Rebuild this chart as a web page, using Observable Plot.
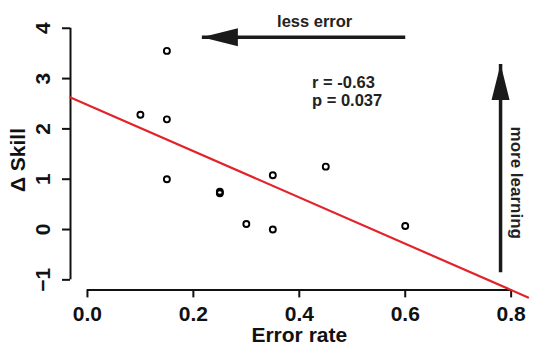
<!DOCTYPE html>
<html>
<head>
<meta charset="utf-8">
<script src="https://cdn.jsdelivr.net/npm/d3@7"></script>
<script src="https://cdn.jsdelivr.net/npm/@observablehq/plot@0.6"></script>
<style>
  html, body { margin: 0; padding: 0; background: #fff; }
  svg { display: block; }
</style>
</head>
<body>
<div id="chart"></div>
<script>
// ---- data ----
const errorRate = [0.15, 0.10, 0.15, 0.15, 0.25, 0.25, 0.35, 0.45, 0.30, 0.35, 0.60];
const deltaSkill = [3.55, 2.28, 2.19, 1.00, 0.75, 0.72, 1.08, 1.25, 0.11, 0.00, 0.07];
const xTicks = [0.0, 0.2, 0.4, 0.6, 0.8];
const yTicks = [-1, 0, 1, 2, 3, 4];
const xDomain = [-0.032, 0.832];
const yDomain = [-1.2, 4.2];
const statLabels = ["r = -0.63", "p = 0.037"];
const statX = [0.424, 0.424];
const statY = [2.92, 2.56];
// annotation arrows: [x1, y1, x2, y2] (tail -> tip)
const arrowLessError = [0.60, 3.82, 0.216, 3.82];
const arrowMoreLearning = [0.780, -0.85, 0.780, 3.29];
const lessErrorLabel = {text: "less error", x: 0.429, y: 4.135};
const moreLearningLabel = {text: "more learning", x: 0.810, y: 0.93};

const points = errorRate.map((x, i) => ({x, y: deltaSkill[i]}));

// least-squares fit (abline)
const mx = d3.mean(errorRate), my = d3.mean(deltaSkill);
const slope = d3.sum(points, d => (d.x - mx) * (d.y - my)) / d3.sum(points, d => (d.x - mx) ** 2);
const intercept = my - slope * mx;
const fitLine = xDomain.map(x => ({x, y: intercept + slope * x}));

const arrows = [arrowLessError, arrowMoreLearning].map(([x1, y1, x2, y2]) => ({x1, y1, x2, y2}));
const heads = arrows.map(a => ({x: a.x2, y: a.y2, rot: a.x2 < a.x1 ? -90 : 0}));

// filled, elongated arrow head with tip at origin pointing up
const headSymbol = {
  draw(ctx) {
    ctx.moveTo(0, 0);
    ctx.lineTo(-9, 36);
    ctx.lineTo(9, 36);
    ctx.closePath();
  }
};

const font = "'Liberation Sans', Arial, Helvetica, sans-serif";
const fmtY = d => d < 0 ? "\u2212" + Math.abs(d) : String(d);

const plot = Plot.plot({
  width: 534,
  height: 346,
  marginLeft: 70,
  marginRight: 6.4,
  marginTop: 17.7,
  marginBottom: 56.6,
  style: {fontFamily: font, fontWeight: "bold", background: "#fff", color: "#000"},
  x: {type: "linear", domain: xDomain},
  y: {type: "linear", domain: yDomain},
  marks: [
    // x axis
    Plot.ruleY([yDomain[0]], {x1: xTicks[0], x2: xTicks[xTicks.length - 1], stroke: "#111", strokeWidth: 2}),
    Plot.axisX({ticks: xTicks, tickSize: 8, text: null, stroke: "#111", strokeWidth: 2, label: null}),
    Plot.text(xTicks, {x: d => d, frameAnchor: "bottom", dy: 24, text: d3.format(".1f"),
      fontSize: 21, fontWeight: "bold", fill: "#111", lineAnchor: "middle"}),
    Plot.text(["Error rate"], {frameAnchor: "bottom", dy: 45, fontSize: 21, fontWeight: "bold", fill: "#111", lineAnchor: "middle"}),
    // y axis
    Plot.ruleX([xDomain[0]], {y1: yTicks[0], y2: yTicks[yTicks.length - 1], stroke: "#111", strokeWidth: 2}),
    Plot.axisY({ticks: yTicks, tickSize: 8, text: null, stroke: "#111", strokeWidth: 2, label: null}),
    Plot.text(yTicks, {y: d => d, frameAnchor: "left", dx: -27, rotate: -90, text: fmtY,
      fontSize: 21, fontWeight: "bold", fill: "#111", textAnchor: "middle", lineAnchor: "middle"}),
    Plot.text(["\u0394 Skill"], {frameAnchor: "left", dx: -52, dy: 6, rotate: -90, fontSize: 21, fontWeight: "bold", fill: "#111",
      textAnchor: "middle", lineAnchor: "middle"}),
    // regression line
    Plot.line(fitLine, {x: "x", y: "y", stroke: "#e3232a", strokeWidth: 2.2}),
    // points
    Plot.dot(points, {x: "x", y: "y", r: 3, stroke: "#000", strokeWidth: 1.9, fill: "none"}),
    // arrows
    Plot.link(arrows, {x1: "x1", y1: "y1", x2: "x2", y2: "y2", stroke: "#1a1a1a", strokeWidth: 3.5}),
    Plot.dot(heads, {x: "x", y: "y", symbol: headSymbol, rotate: "rot", fill: "#1a1a1a", stroke: "none", r: 5}),
    // annotation text
    Plot.text([lessErrorLabel], {x: "x", y: "y", text: "text", fontSize: 16.5, fontWeight: "bold", fill: "#222"}),
    Plot.text([moreLearningLabel], {x: "x", y: "y", text: "text", rotate: 90, fontSize: 17, fontWeight: "bold", fill: "#222"}),
    Plot.text(statLabels, {x: (d, i) => statX[i], y: (d, i) => statY[i], text: d => d, textAnchor: "start",
      fontSize: 16.5, fontWeight: "bold", fill: "#222"})
  ]
});

document.getElementById("chart").appendChild(plot);
</script>
</body>
</html>
